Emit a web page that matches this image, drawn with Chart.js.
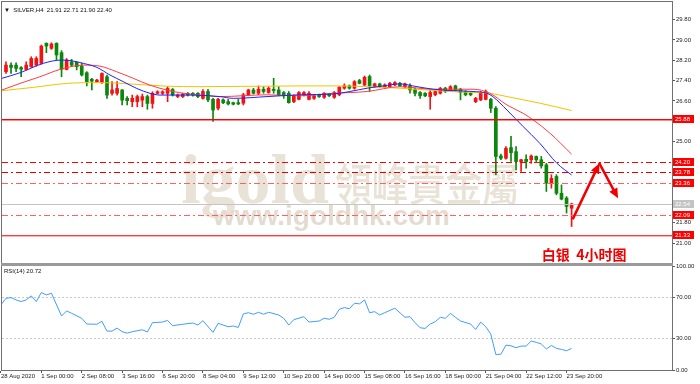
<!DOCTYPE html>
<html>
<head>
<meta charset="utf-8">
<script src="https://cdn.jsdelivr.net/npm/chart.js@4.4.1/dist/chart.umd.min.js"></script>
<style>
    html, body { margin: 0; padding: 0; background: #fff; }
    #wrap { position: relative; width: 700px; height: 384px; overflow: hidden; }
    #main { position: absolute; left: 0; top: 0; }
    #rsi  { position: absolute; left: 0; top: 263px; }
</style>
</head>
<body>
<div id="wrap">
    <canvas id="main" width="700" height="263"></canvas>
    <canvas id="rsi" width="700" height="121"></canvas>
</div>
<script>
/* ---------------------------------------------------------
   Daten: SILVER H4, 28 Aug - 24 Sep 2020 (Index = Kerze)
--------------------------------------------------------- */
var opens = [
    27.75, 28.01, 28.01, 27.91, 27.84, 27.95, 28.01, 28.08, 28.87, 28.67,
    28.87, 28.50, 27.84, 28.14, 28.12, 27.97, 27.71, 27.45, 27.36, 27.32,
    27.55, 26.90, 26.90, 27.03, 26.70, 26.57, 26.57, 26.63, 26.77, 26.50,
    26.90, 26.90, 26.90, 27.05, 26.77, 26.77, 26.90, 26.90, 26.90, 26.70,
    26.97, 26.66, 26.31, 26.64, 26.57, 26.53, 26.53, 26.51, 26.84, 27.03,
    26.90, 27.06, 26.93, 27.06, 27.03, 26.93, 26.90, 26.57, 26.66, 26.84,
    26.66, 26.70, 26.84, 26.74, 26.87, 26.74, 26.84, 27.10, 27.19, 27.10,
    27.40, 27.23, 27.56, 27.16, 27.27, 27.14, 27.16, 27.23, 27.29, 27.16,
    27.19, 27.06, 26.93, 26.90, 26.77, 26.84, 26.90, 27.10, 27.03, 27.19,
    27.06, 26.97, 26.90, 26.57, 26.64, 26.66, 26.66, 26.31, 24.43, 24.34,
    24.76, 24.60, 24.21, 24.30, 24.28, 24.41, 24.28, 24.08, 23.36, 23.62,
    22.96, 22.77, 22.37
];
var highs = [
    28.14, 28.10, 28.10, 27.95, 28.14, 28.34, 28.34, 28.80, 28.89, 28.89,
    28.89, 28.58, 28.27, 28.24, 28.14, 28.08, 27.75, 27.49, 27.45, 27.71,
    27.62, 27.36, 27.36, 27.05, 26.77, 26.83, 26.83, 26.87, 26.83, 26.96,
    27.00, 27.00, 27.16, 27.09, 26.87, 26.90, 26.93, 26.93, 26.93, 27.05,
    27.06, 26.70, 26.70, 26.68, 26.66, 26.55, 26.66, 26.90, 27.06, 27.10,
    27.19, 27.16, 27.16, 27.49, 27.16, 26.97, 26.97, 26.84, 26.97, 26.97,
    26.97, 26.84, 26.87, 26.93, 26.90, 26.97, 27.16, 27.27, 27.23, 27.40,
    27.45, 27.58, 27.62, 27.30, 27.30, 27.27, 27.33, 27.36, 27.33, 27.30,
    27.27, 27.10, 26.97, 26.93, 27.03, 27.00, 27.13, 27.14, 27.20, 27.22,
    27.10, 27.00, 26.93, 26.74, 26.97, 27.03, 26.70, 26.38, 24.50, 24.80,
    25.20, 24.80, 24.30, 24.47, 24.47, 24.43, 24.41, 24.14, 23.69, 23.69,
    23.29, 22.83, 22.57
];
var lows = [
    27.68, 27.68, 27.75, 27.55, 27.82, 27.92, 27.97, 28.05, 28.50, 28.63,
    28.21, 27.55, 27.82, 27.95, 27.82, 27.58, 27.19, 27.03, 27.32, 27.29,
    26.70, 26.83, 26.83, 26.44, 26.44, 26.37, 26.37, 26.37, 26.27, 26.31,
    26.87, 26.85, 26.57, 26.79, 26.73, 26.73, 26.79, 26.79, 26.73, 26.67,
    26.57, 25.79, 26.24, 26.49, 26.44, 26.44, 26.45, 26.44, 26.80, 26.87,
    26.84, 26.90, 26.90, 26.90, 26.80, 26.70, 26.51, 26.53, 26.64, 26.80,
    26.64, 26.66, 26.74, 26.70, 26.77, 26.70, 26.80, 27.06, 27.06, 27.06,
    27.27, 27.19, 26.97, 27.13, 27.13, 27.10, 27.13, 27.20, 27.16, 27.13,
    26.90, 26.80, 26.70, 26.77, 26.27, 26.80, 26.87, 26.93, 27.00, 27.00,
    26.64, 26.80, 26.80, 26.53, 26.61, 26.64, 26.14, 23.69, 24.28, 24.30,
    24.21, 23.88, 23.82, 23.95, 24.14, 24.21, 23.95, 23.03, 23.16, 22.90,
    22.70, 22.18, 21.65
];
var closes = [
    28.01, 27.92, 27.88, 27.85, 28.01, 28.27, 28.27, 28.76, 28.76, 28.84,
    28.41, 27.84, 28.21, 28.01, 27.95, 27.62, 27.36, 27.38, 27.42, 27.68,
    26.83, 27.03, 27.09, 26.63, 26.61, 26.70, 26.77, 26.77, 26.50, 26.90,
    26.96, 26.96, 27.09, 26.83, 26.83, 26.87, 26.83, 26.83, 26.77, 26.97,
    26.64, 26.24, 26.66, 26.53, 26.48, 26.47, 26.48, 26.84, 27.03, 26.90,
    27.06, 26.97, 27.10, 27.01, 26.84, 26.80, 26.53, 26.80, 26.93, 26.93,
    26.90, 26.80, 26.77, 26.90, 26.80, 26.93, 27.14, 27.19, 27.10, 27.36,
    27.29, 27.53, 27.19, 27.27, 27.16, 27.23, 27.29, 27.32, 27.19, 27.27,
    27.03, 26.90, 26.80, 26.80, 26.93, 26.97, 27.10, 26.97, 27.16, 27.03,
    26.93, 26.84, 26.84, 26.70, 26.90, 26.97, 26.31, 24.41, 24.34, 24.73,
    24.56, 24.21, 24.28, 24.21, 24.43, 24.28, 24.04, 23.36, 23.55, 22.96,
    22.73, 22.44, 22.54
];

// Gleitende Durchschnitte (Kerzenindex / Preis)
var maFastBar = [-0.8, 2.8, 7.4, 11.0, 13.0, 15.3, 18.0, 20.6, 23.2, 25.9, 28.5, 30.5, 35.1, 38.4, 42.4, 45.0,
                 51.7, 58.2, 64.8, 68.1, 71.5, 74.7, 78.0, 81.4, 84.6, 87.9, 92.5, 95.2, 96.4, 99.2, 102.4, 105.7, 109.1, 112];
var maFastVal = [27.49, 27.71, 28.08, 28.21, 28.18, 28.08, 27.92, 27.62, 27.36, 27.09, 26.90, 26.83, 26.83, 26.82, 26.77, 26.70,
                 26.77, 26.84, 26.87, 26.97, 27.10, 27.19, 27.27, 27.16, 27.06, 27.01, 26.97, 26.90, 26.77, 26.24, 25.59, 24.93, 24.14, 23.68];
var maMidBar  = [-0.8, 2.8, 6.7, 10.7, 15.3, 18.6, 21.9, 25.2, 28.5, 31.8, 35.1, 38.4, 42.4, 51.7, 58.2, 64.8,
                 71.5, 78.0, 84.6, 92.5, 95.8, 99.2, 102.4, 104.4, 107.7, 112];
var maMidVal  = [27.03, 27.29, 27.55, 27.84, 28.01, 27.97, 27.75, 27.49, 27.22, 27.03, 26.90, 26.83, 26.77, 26.84, 26.80, 26.90,
                 26.97, 27.16, 27.06, 27.06, 26.90, 26.44, 26.11, 25.85, 25.33, 24.50];
var maSlowBar = [-0.8, 5.3, 12.1, 18.6, 25.2, 31.8, 38.4, 58.2, 66.1, 71.5, 78.0, 87.9, 92.5, 95.8, 99.2, 105.7, 112];
var maSlowVal = [27.00, 27.13, 27.29, 27.32, 27.26, 27.18, 27.16, 27.19, 27.19, 27.16, 27.10, 26.97, 26.93, 26.90, 26.77, 26.51, 26.22];

// RSI(14)
var rsiBar = [-1, 0, 1, 2, 3, 4, 5, 6, 7, 8, 9, 11, 12, 13, 15, 16, 18, 19, 20, 21, 22, 23, 24, 25, 27, 28, 29,
              31, 32, 33, 35, 37, 38, 39, 41, 42, 44, 45, 46, 47, 48, 49, 50, 51, 52, 54, 55, 56, 57, 59, 60,
              62, 63, 64, 65, 66, 67, 68, 69, 70, 71, 72, 73, 74, 75, 77, 79, 80, 81, 82, 83, 84, 85, 86, 87,
              88, 89, 90, 92, 93, 94, 95, 96, 97, 98, 99, 100, 101, 102, 103, 104, 105, 106, 107, 108, 109,
              110, 111, 112];
var rsiVal = [62.6, 69.0, 69.6, 67.4, 65.8, 67.4, 71.3, 65.8, 74.5, 72.2, 73.8, 51.9, 56.8, 54.5, 49.7, 44.2, 44.0, 46.8, 37.4, 37.4, 40.3, 36.8, 35.5, 36.8, 38.7, 36.5, 45.5,
              46.1, 47.7, 42.6, 44.0, 45.2, 43.2, 47.4, 36.2, 44.9, 41.6, 42.3, 40.9, 53.9, 55.1, 53.6, 55.5, 53.6, 55.5, 52.9, 49.7, 43.2, 48.4, 51.3, 46.1,
              47.1, 49.7, 48.8, 50.7, 58.4, 60.0, 58.9, 64.2, 63.6, 67.4, 55.1, 56.1, 52.9, 55.1, 59.4, 50.7, 51.3, 45.5, 40.6, 40.0, 44.2, 46.4, 50.7, 49.7,
              54.5, 50.7, 47.1, 44.2, 39.0, 46.1, 41.6, 34.5, 14.9, 15.2, 23.9, 23.3, 21.4, 23.0, 23.0, 27.8, 26.6, 25.0, 20.2, 23.6, 20.8,
              19.8, 18.5, 20.7];

// Zeitachse
var timeBars   = [-1, 7, 15, 23, 31, 39, 47, 55, 63, 71, 79, 87, 95, 103, 111];
var timeLabels = ['28 Aug 2020', '1 Sep 00:00', '2 Sep 08:00', '3 Sep 16:00', '6 Sep 20:00', '8 Sep 04:00',
                  '9 Sep 12:00', '10 Sep 20:00', '14 Sep 00:00', '15 Sep 08:00', '16 Sep 16:00', '18 Sep 00:00',
                  '21 Sep 04:00', '22 Sep 12:00', '23 Sep 20:00'];
var priceTicks = [21.00, 21.80, 25.00, 26.60, 27.40, 28.20, 29.00, 29.80];
var rsiTicks   = [0, 30, 70, 100];

// Horizontale Marken
var levelPrices = [25.88, 24.20, 23.78, 23.36, 22.54, 22.09, 21.33];
var levelTexts  = ['25.88', '24.20', '23.78', '23.36', '22.54', '22.09', '21.33'];

// Prognosepfeil (Kerzenindex / Preis)
var arrowBars   = [112.3, 117.5, 121.2];
var arrowPrices = [21.97, 24.14, 22.76];

/* ---------------------------------------------------------
   Darstellung
--------------------------------------------------------- */
var X_MIN = -0.79, X_MAX = 131.88;
var Y_MIN = 20.212, Y_MAX = 30.497;
var BULL = '#f21212', BEAR = '#0b870b';
var FONT = '"Liberation Sans", Arial, sans-serif';

// solide Linien: zweite, halbtransparente Zeile, damit das Rot sichtbar bleibt
var levelStyles = [
    { color: '#ff0000', dash: null,         glow: 'rgba(255,0,0,0.45)',   box: '#ff0000' },
    { color: '#ff0000', dash: [6, 3, 2, 3], glow: null,                   box: '#ff0000' },
    { color: '#e00000', dash: [6, 3, 2, 3], glow: null,                   box: '#ff0000' },
    { color: '#ff6060', dash: [6, 3, 2, 3], glow: null,                   box: '#ff0000' },
    { color: '#c4c4c4', dash: null,         glow: null,                   box: '#c4c4c4' },
    { color: '#ff6060', dash: [6, 3, 2, 3], glow: null,                   box: '#ff0000' },
    { color: '#ff3a3a', dash: null,         glow: 'rgba(255,70,70,0.4)',  box: '#ff0000' }
];

Chart.defaults.font.family = FONT;
Chart.defaults.font.size = 6;
Chart.defaults.color = '#222';

function pairs(xs, ys) {
    return xs.map(function (x, i) { return { x: x, y: ys[i] }; });
}

// Achsen sollen den Zeichenbereich nicht wegen Beschriftungen verkleinern
function fitRight(s) {
    s.width = 28;
    s.paddingTop = 0;
    s.paddingBottom = 0;
}
function fitBottom(s) {
    s.height = 14;
    s.paddingLeft = 0;
    s.paddingRight = 0;
}

var bodies = [], wicks = [];
for (var i = 0; i < opens.length; i++) {
    bodies.push({ x: i, y: [opens[i], closes[i]] });
    wicks.push({ x: i, y: [lows[i], highs[i]] });
}
function candleColor(c) {
    var k = c.dataIndex;
    return closes[k] >= opens[k] ? BULL : BEAR;
}

var frame = {
    id: 'frame',
    afterDraw: function (chart) {
        var a = chart.chartArea, ctx = chart.ctx;
        ctx.save();
        ctx.strokeStyle = '#707070';
        ctx.lineWidth = 1;
        ctx.strokeRect(Math.round(a.left) - 0.5, Math.round(a.top) - 0.5,
                       Math.round(a.right - a.left) + 1, Math.round(a.bottom - a.top) + 1);
        ctx.restore();
    }
};

var watermark = {
    id: 'watermark',
    beforeDatasetsDraw: function (chart) {
        var ctx = chart.ctx;
        ctx.save();
        ctx.fillStyle = '#e9e2d6';
        ctx.textBaseline = 'alphabetic';
        ctx.font = 'bold 70px "Liberation Serif", serif';
        ctx.fillText('igold', 181, 203);
        ctx.save();
        ctx.translate(335, 201);
        ctx.scale(0.92, 1.1);
        ctx.font = '500 40px "Noto Sans CJK TC"';
        ctx.fillText('領峰貴金屬', 0, 0);
        ctx.restore();
        ctx.fillStyle = '#e4dcd0';
        ctx.font = 'bold 28px ' + FONT;
        ctx.fillText('www.igoldhk.com', 213, 225);
        ctx.restore();
    }
};

var levels = {
    id: 'levelLines',
    afterDatasetsDraw: function (chart) {
        var a = chart.chartArea, ctx = chart.ctx, y = chart.scales.y;
        ctx.save();
        ctx.lineWidth = 1;
        levelPrices.forEach(function (p, k) {
            var st = levelStyles[k];
            var py = Math.round(y.getPixelForValue(p));
            if (!st.dash) {
                if (st.glow) {
                    ctx.fillStyle = st.glow;
                    ctx.fillRect(a.left, py + 1, a.right - a.left, 1);
                }
                ctx.fillStyle = st.color;
                ctx.fillRect(a.left, py, a.right - a.left, 1);
                return;
            }
            ctx.strokeStyle = st.color;
            ctx.setLineDash(st.dash);
            ctx.beginPath();
            ctx.moveTo(a.left, py + 0.5);
            ctx.lineTo(a.right, py + 0.5);
            ctx.stroke();
        });
        ctx.restore();
    }
};

function arrow(ctx, x1, y1, x2, y2) {
    var ang = Math.atan2(y2 - y1, x2 - x1), len = 10, w = 4.5;
    var c = Math.cos(ang), s = Math.sin(ang);
    ctx.beginPath();
    ctx.moveTo(x1, y1);
    ctx.lineTo(x2 - c * len * 0.7, y2 - s * len * 0.7);
    ctx.stroke();
    ctx.beginPath();
    ctx.moveTo(x2, y2);
    ctx.lineTo(x2 - len * c + w * s, y2 - len * s - w * c);
    ctx.lineTo(x2 - len * c - w * s, y2 - len * s + w * c);
    ctx.closePath();
    ctx.fill();
}

var overlay = {
    id: 'overlay',
    afterDraw: function (chart) {
        var a = chart.chartArea, ctx = chart.ctx, xs = chart.scales.x, ys = chart.scales.y;
        ctx.save();

        // Kopfzeile
        ctx.fillStyle = '#111';
        ctx.font = '6px ' + FONT;
        ctx.textBaseline = 'middle';
        ctx.textAlign = 'left';
        ctx.fillText('\u25BC  SILVER,H4  21.91 22.71 21.90 22.40', a.left + 2, a.top + 8);

        // Preismarken an der Achse
        levelPrices.forEach(function (p, k) {
            var py = Math.round(ys.getPixelForValue(p));
            ctx.fillStyle = levelStyles[k].box;
            ctx.fillRect(a.right + 1, py - 4, 21, 8);
            ctx.fillStyle = '#fff';
            ctx.fillText(levelTexts[k], a.right + 3, py + 0.5);
        });

        // Pfeil
        var pts = arrowBars.map(function (b, k) {
            return { x: xs.getPixelForValue(b), y: ys.getPixelForValue(arrowPrices[k]) };
        });
        ctx.strokeStyle = '#f00000';
        ctx.fillStyle = '#f00000';
        ctx.lineWidth = 2.5;
        ctx.lineCap = 'round';
        arrow(ctx, pts[0].x, pts[0].y, pts[1].x, pts[1].y);
        arrow(ctx, pts[1].x, pts[1].y, pts[2].x, pts[2].y);

        // Beschriftung
        ctx.fillStyle = '#f00000';
        ctx.font = 'bold 14px "Noto Sans CJK SC"';
        ctx.fillText('白银  4小时图', xs.getPixelForValue(106.1), ys.getPixelForValue(20.52));
        ctx.restore();
    }
};

var rsiOverlay = {
    id: 'rsiOverlay',
    afterDraw: function (chart) {
        var a = chart.chartArea, ctx = chart.ctx;
        ctx.save();
        ctx.fillStyle = '#9a9a9a';
        ctx.fillRect(a.left - 1, 0, a.right - a.left + 2, 3);
        ctx.fillStyle = '#111';
        ctx.font = '6px ' + FONT;
        ctx.textBaseline = 'middle';
        ctx.fillText('RSI(14) 20.72', a.left + 2, a.top + 5);
        ctx.restore();
    }
};

new Chart(document.getElementById('main'), {
    type: 'bar',
    data: {
        datasets: [
            { type: 'line', data: pairs(maFastBar, maFastVal), borderColor: '#2020ff', borderWidth: 1,
              pointRadius: 0, cubicInterpolationMode: 'monotone', order: 0 },
            { type: 'line', data: pairs(maMidBar, maMidVal), borderColor: '#ff3c3c', borderWidth: 1,
              pointRadius: 0, cubicInterpolationMode: 'monotone', order: 0 },
            { type: 'line', data: pairs(maSlowBar, maSlowVal), borderColor: '#f2c200', borderWidth: 1,
              pointRadius: 0, cubicInterpolationMode: 'monotone', order: 0 },
            { data: wicks, backgroundColor: candleColor, barThickness: 1, grouped: false, order: 2 },
            { data: bodies, backgroundColor: candleColor, barThickness: 3, minBarLength: 1, grouped: false, order: 1 }
        ]
    },
    options: {
        responsive: false,
        animation: false,
        events: [],
        layout: { padding: { left: 2, top: 2, right: 0, bottom: 0 } },
        plugins: { legend: { display: false }, tooltip: { enabled: false } },
        scales: {
            x: { type: 'linear', min: X_MIN, max: X_MAX, offset: false, display: false },
            y: {
                position: 'right', min: Y_MIN, max: Y_MAX, beginAtZero: false,
                afterFit: fitRight,
                afterBuildTicks: function (s) { s.ticks = priceTicks.map(function (v) { return { value: v }; }); },
                ticks: { padding: 1, callback: function (v) { return v.toFixed(2); } },
                grid: { drawOnChartArea: false, tickLength: 3, color: '#555' },
                border: { color: '#707070' }
            }
        }
    },
    plugins: [watermark, levels, frame, overlay]
});

new Chart(document.getElementById('rsi'), {
    type: 'line',
    data: {
        datasets: [
            { data: pairs(rsiBar, rsiVal), borderColor: '#3f9cff', borderWidth: 1, pointRadius: 0, tension: 0 }
        ]
    },
    options: {
        responsive: false,
        animation: false,
        events: [],
        layout: { padding: { left: 2, top: 3, right: 0, bottom: 0 } },
        plugins: { legend: { display: false }, tooltip: { enabled: false } },
        scales: {
            x: {
                type: 'linear', min: X_MIN, max: X_MAX,
                afterFit: fitBottom,
                afterBuildTicks: function (s) { s.ticks = timeBars.map(function (v) { return { value: v }; }); },
                ticks: { autoSkip: false, maxRotation: 0, minRotation: 0, align: 'start', padding: 0,
                         callback: function (v, k) { return timeLabels[k]; } },
                grid: { drawOnChartArea: false, tickLength: 3, color: '#555' },
                border: { color: '#707070' }
            },
            y: {
                position: 'right', min: 0, max: 100,
                afterFit: fitRight,
                afterBuildTicks: function (s) { s.ticks = rsiTicks.map(function (v) { return { value: v }; }); },
                ticks: { padding: 1, callback: function (v) { return v.toFixed(2); } },
                grid: {
                    tickLength: 3, tickColor: '#555',
                    color: function (c) {
                        return c.tick && (c.tick.value === 30 || c.tick.value === 70) ? '#c8c8c8' : 'rgba(0,0,0,0)';
                    }
                },
                border: { color: '#707070', dash: [2, 2] }
            }
        }
    },
    plugins: [frame, rsiOverlay]
});
</script>
</body>
</html>
